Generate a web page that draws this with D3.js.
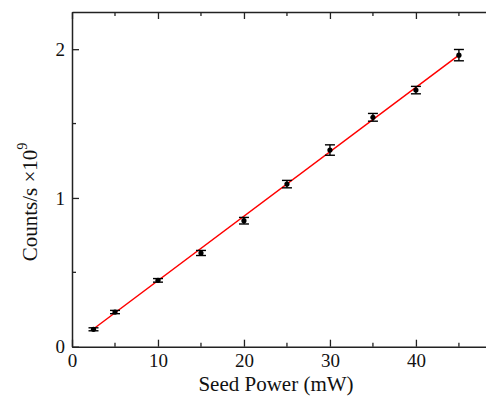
<!DOCTYPE html>
<html><head><meta charset="utf-8">
<script src="https://cdn.jsdelivr.net/npm/d3@7"></script>
<style>body{margin:0;background:#fff}svg{display:block}text{font-family:"Liberation Serif","Times New Roman",serif}</style>
</head><body>
<script>
const powers = [2.5, 5, 10, 15, 20, 25, 30, 35, 40, 45];
const counts = [0.117, 0.233, 0.446, 0.630, 0.847, 1.093, 1.322, 1.542, 1.725, 1.960];
const errors = [0.010, 0.011, 0.012, 0.017, 0.022, 0.025, 0.035, 0.026, 0.025, 0.038];
const fitRange = [2.6, 45];
const fitSlope = 0.0433;
const fitIntercept = 0.0115;
const xMajor = [0, 10, 20, 30, 40];
const xMinor = [5, 15, 25, 35, 45];
const yMajor = [0, 1, 2];
const yMinor = [0.5, 1.5];

const W = 486, H = 396;
const m = {l: 72, t: 12, b: 346.7};
const svg = d3.select("body").append("svg").attr("width", W).attr("height", H);
const x = d3.scaleLinear().domain([0, 48.15]).range([m.l, W]);
const y = d3.scaleLinear().domain([0, 2.25]).range([m.b, m.t]);
const axisColor = "#222";
const font = "'Liberation Serif', 'Times New Roman', serif";

function styleAxis(g) {
  g.attr("font-family", null);
  g.select(".domain").attr("stroke", axisColor).attr("stroke-width", 1.5);
  g.selectAll(".tick line").attr("stroke", axisColor).attr("stroke-width", 1.3);
}
// bottom axis
const gb = svg.append("g").attr("transform", `translate(0,${m.b})`)
  .call(d3.axisBottom(x).tickValues(xMajor).tickSizeInner(-7).tickSizeOuter(0).tickPadding(7).tickFormat(d3.format("d")));
styleAxis(gb);
gb.selectAll(".tick text").style("font-family", font).attr("font-size", 19).attr("fill", "#111");
gb.append("g").selectAll("line").data(xMinor).join("line")
  .attr("x1", d => x(d)).attr("x2", d => x(d)).attr("y1", 0).attr("y2", -4)
  .attr("stroke", axisColor).attr("stroke-width", 1.3);
// top axis
const gt = svg.append("g").attr("transform", `translate(0,${m.t})`)
  .call(d3.axisTop(x).tickValues(xMajor).tickSizeInner(-7).tickSizeOuter(0).tickFormat(""));
styleAxis(gt);
gt.append("g").selectAll("line").data(xMinor).join("line")
  .attr("x1", d => x(d)).attr("x2", d => x(d)).attr("y1", 0).attr("y2", 4)
  .attr("stroke", axisColor).attr("stroke-width", 1.3);
// left axis
const gl = svg.append("g").attr("transform", `translate(${m.l},0)`)
  .call(d3.axisLeft(y).tickValues(yMajor).tickSizeInner(-7).tickSizeOuter(0).tickPadding(7).tickFormat(d3.format("d")));
styleAxis(gl);
gl.selectAll(".tick text").style("font-family", font).attr("font-size", 19).attr("fill", "#111");
gl.append("g").selectAll("line").data(yMinor).join("line")
  .attr("y1", d => y(d)).attr("y2", d => y(d)).attr("x1", 0).attr("x2", 4)
  .attr("stroke", axisColor).attr("stroke-width", 1.3);

// fit line
svg.append("line")
  .attr("x1", x(fitRange[0])).attr("y1", y(fitSlope * fitRange[0] + fitIntercept))
  .attr("x2", x(fitRange[1])).attr("y2", y(fitSlope * fitRange[1] + fitIntercept))
  .attr("stroke", "#f00").attr("stroke-width", 1.5);

// error bars + points
const data = powers.map((p, i) => ({p, c: counts[i], e: errors[i]}));
const eb = svg.append("g").attr("stroke", "#000").attr("stroke-width", 1.4);
eb.selectAll(".v").data(data).join("line")
  .attr("x1", d => x(d.p)).attr("x2", d => x(d.p))
  .attr("y1", d => y(d.c - d.e)).attr("y2", d => y(d.c + d.e));
eb.selectAll(".t").data(data).join("line")
  .attr("x1", d => x(d.p) - 5).attr("x2", d => x(d.p) + 5)
  .attr("y1", d => y(d.c + d.e)).attr("y2", d => y(d.c + d.e));
eb.selectAll(".b").data(data).join("line")
  .attr("x1", d => x(d.p) - 5).attr("x2", d => x(d.p) + 5)
  .attr("y1", d => y(d.c - d.e)).attr("y2", d => y(d.c - d.e));
svg.append("g").selectAll("circle").data(data).join("circle")
  .attr("cx", d => x(d.p)).attr("cy", d => y(d.c)).attr("r", 2.6).attr("fill", "#000");

// labels
svg.append("text").attr("x", 276).attr("y", 391).attr("text-anchor", "middle")
  .style("font-family", font).attr("font-size", 21).attr("fill", "#111").text("Seed Power (mW)");
const yl = svg.append("text").attr("transform", "translate(37,202) rotate(-90)")
  .attr("text-anchor", "middle").style("font-family", font).attr("font-size", 21).attr("fill", "#111");
yl.append("tspan").text("Counts/s \u00d710");
yl.append("tspan").attr("dy", -10).attr("font-size", 14).text("9");
</script>
</body></html>
